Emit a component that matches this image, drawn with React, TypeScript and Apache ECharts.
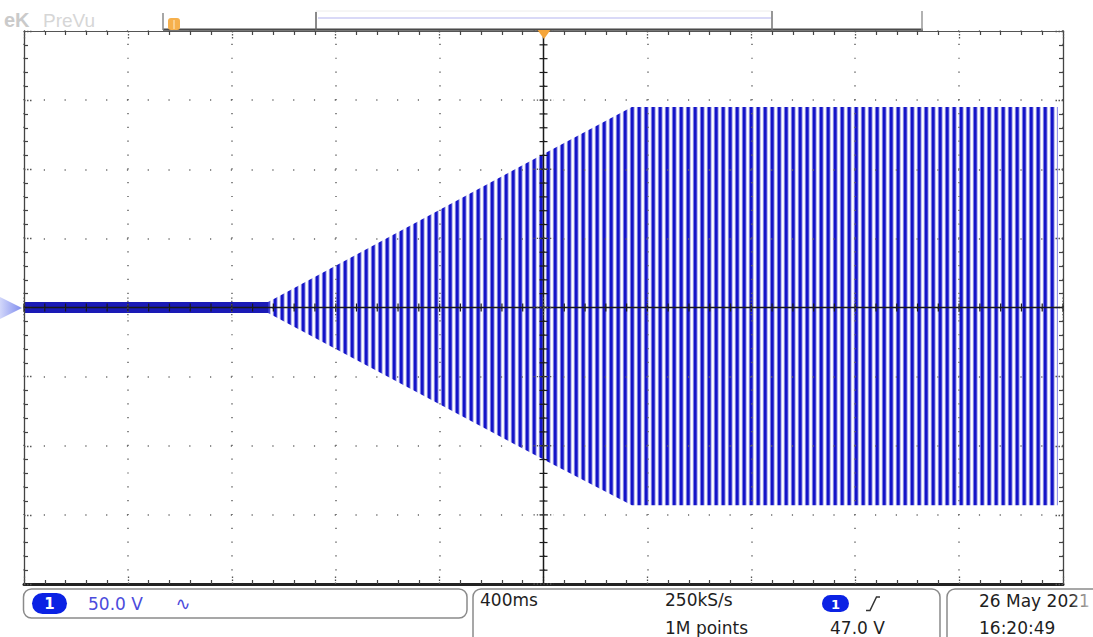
import React, { useEffect, useRef } from "react";
import * as echarts from "echarts";

// ---- axis scale (400 ms/div, 50 V/div) ----
const timeTicksMs = [-2000, -1600, -1200, -800, -400, 0, 400, 800, 1200, 1600, 2000];
const voltTicks = [-200, -150, -100, -50, 0, 50, 100, 150, 200];
const minorPerDiv = 5;

// ---- captured trace: envelope ----
// idle noise before the start-up
const noiseTime = [-2000, -1060];
const noiseMax = [4, 4];
const noiseMin = [-4, -4];
// ramping then steady oscillation
const traceTime = [-1060, 0, 340, 1980];
const traceMax = [4, 111, 145, 145];
const traceMin = [-4, -110, -143, -143];

// ---- status bar texts ----
const chScale = "50.0 V";
const timeBase = "400ms";
const sampleRate = "250kS/s";
const recordLen = "1M points";
const trigLevel = "47.0 V";
const dateText = "26 May 2021";
const timeText = "16:20:49";

function subdivide(ticks: number[], n: number): number[] {
  const out: number[] = [];
  for (let i = 0; i < ticks.length - 1; i++) {
    for (let k = 0; k < n; k++) out.push(ticks[i] + ((ticks[i + 1] - ticks[i]) * k) / n);
  }
  out.push(ticks[ticks.length - 1]);
  return out;
}

function makeStripePattern() {
  const cols = ["#7c7ce2", "#1414c8", "#1414c8", "#4646d2", "#c4c4f0", "#ffffff", "#eeeefa"];
  const c = document.createElement("canvas");
  c.width = cols.length;
  c.height = 4;
  const ctx = c.getContext("2d")!;
  cols.forEach((col, i) => {
    ctx.fillStyle = col;
    ctx.fillRect(i, 0, 1, 4);
  });
  return { image: c.toDataURL(), repeat: "repeat", imageWidth: cols.length, imageHeight: 4 };
}

const FONT = "DejaVu Sans";

export default function App() {
  const ref = useRef<HTMLDivElement>(null);

  useEffect(() => {
    if (!ref.current) return;
    const chart = echarts.init(ref.current, null, { renderer: "svg" });
    const pattern = makeStripePattern();
    const tMin = timeTicksMs[0];
    const tMax = timeTicksMs[timeTicksMs.length - 1];
    const vMin = voltTicks[0];
    const vMax = voltTicks[voltTicks.length - 1];
    const tInt = timeTicksMs[1] - timeTicksMs[0];
    const vInt = voltTicks[1] - voltTicks[0];
    const timeMinor = subdivide(timeTicksMs, minorPerDiv);
    const voltMinor = subdivide(voltTicks, minorPerDiv);

    const gridH = 553;
    const gridW = 1039;
    const vDotStep = gridH / ((voltTicks.length - 1) * minorPerDiv);
    const hDotStep = gridW / ((timeTicksMs.length - 1) * minorPerDiv);

    const tickCommon = {
      axisLabel: { show: false },
      axisTick: {
        show: true,
        inside: true,
        length: 8,
        lineStyle: { color: "#555", width: 1.3, type: [1.5, 1.5] },
      },
      minorTick: { show: true, splitNumber: minorPerDiv, length: 4, lineStyle: { color: "#444", width: 1.2 } },
      z: 4,
    };

    const xBase = { type: "value", min: tMin, max: tMax, interval: tInt, ...tickCommon };
    const yBase = { type: "value", min: vMin, max: vMax, interval: vInt, ...tickCommon };

    const areaSeries = (name: string, xs: number[], ys: number[], color: any) => ({
      type: "line",
      name,
      data: xs.map((t, i) => [t, ys[i]]),
      showSymbol: false,
      silent: true,
      lineStyle: { width: 0, opacity: 0 },
      areaStyle: { color, opacity: 1 },
      z: 2,
    });

    const option: any = {
      animation: false,
      backgroundColor: "#ffffff",
      grid: { left: 24, top: 31, width: gridW, height: gridH, containLabel: false },
      xAxis: [
        {
          ...xBase,
          position: "bottom",
          axisLine: { show: true, onZero: false, lineStyle: { color: "#222", width: 3 } },
          splitLine: {
            show: true,
            lineStyle: { color: "#666", width: 1.5, type: [1.2, vDotStep - 1.2], dashOffset: 0.6 },
          },
        },
        {
          ...xBase,
          position: "top",
          axisLine: { show: true, onZero: false, lineStyle: { color: "#555", width: 1.2 } },
          splitLine: { show: false },
        },
      ],
      yAxis: [
        {
          ...yBase,
          position: "left",
          axisLine: { show: true, onZero: false, lineStyle: { color: "#444", width: 1.3 } },
          splitLine: {
            show: true,
            lineStyle: { color: "#666", width: 1.5, type: [1.2, hDotStep - 1.2], dashOffset: 0.6 },
          },
        },
        {
          ...yBase,
          position: "right",
          axisLine: { show: true, onZero: false, lineStyle: { color: "#444", width: 1.3 } },
          splitLine: { show: false },
        },
      ],
      series: [
        areaSeries("noise+", noiseTime, noiseMax, "#1a1ab6"),
        areaSeries("noise-", noiseTime, noiseMin, "#1a1ab6"),
        areaSeries("trace+", traceTime, traceMax, pattern),
        areaSeries("trace-", traceTime, traceMin, pattern),
        {
          type: "custom",
          name: "crosshair",
          silent: true,
          z: 6,
          data: [[0, 0]],
          renderItem: (params: any, api: any) => {
            const top = api.coord([0, vMax]);
            const bottom = api.coord([0, vMin]);
            const left = api.coord([tMin, 0]);
            const right = api.coord([tMax, 0]);
            const stroke = "#1a1a1a";
            const children: any[] = [
              { type: "line", shape: { x1: top[0], y1: top[1], x2: bottom[0], y2: bottom[1] }, style: { stroke, lineWidth: 1.5 } },
              { type: "line", shape: { x1: left[0], y1: left[1], x2: right[0], y2: right[1] }, style: { stroke, lineWidth: 1.5 } },
            ];
            voltMinor.forEach((v) => {
              const p = api.coord([0, v]);
              children.push({ type: "line", shape: { x1: p[0] - 4, y1: p[1], x2: p[0] + 4, y2: p[1] }, style: { stroke, lineWidth: 1.2 } });
            });
            timeMinor.forEach((t) => {
              const p = api.coord([t, 0]);
              children.push({ type: "line", shape: { x1: p[0], y1: p[1] - 4, x2: p[0], y2: p[1] + 4 }, style: { stroke, lineWidth: 1.2 } });
            });
            voltTicks.forEach((v) => {
              const p = api.coord([0, v]);
              children.push({ type: "line", shape: { x1: p[0] - 10, y1: p[1], x2: p[0] + 10, y2: p[1] }, style: { stroke: "#555", lineWidth: 1.3, lineDash: [1.3, 2] } });
            });
            timeTicksMs.forEach((t) => {
              const p = api.coord([t, 0]);
              children.push({ type: "line", shape: { x1: p[0], y1: p[1] - 10, x2: p[0], y2: p[1] + 10 }, style: { stroke: "#555", lineWidth: 1.3, lineDash: [1.3, 2] } });
            });
            return { type: "group", children };
          },
        },
      ],
      graphic: [
        // Tek PreVu watermark
        { type: "text", x: 4, y: 20, style: { text: "eK", font: "bold 20px 'Liberation Sans'", fill: "#cacaca", verticalAlign: "middle" } },
        { type: "text", x: 43, y: 20, style: { text: "PreVu", font: "19px 'Liberation Sans'", fill: "#d6d6d6", verticalAlign: "middle" } },
        // record-view bar
        { type: "rect", shape: { x: 316, y: 11, width: 456, height: 18 }, style: { fill: "#ffffff", stroke: "#ececec", lineWidth: 1 } },
        { type: "line", shape: { x1: 318, y1: 18, x2: 771, y2: 18 }, style: { stroke: "#ccccf4", lineWidth: 1.5 } },
        { type: "rect", shape: { x: 163, y: 28.5, width: 760, height: 2.2 }, style: { fill: "#4a4a4a" } },
        { type: "line", shape: { x1: 163, y1: 13, x2: 163, y2: 30 }, style: { stroke: "#8a8a8a", lineWidth: 1.5 } },
        { type: "line", shape: { x1: 316, y1: 12, x2: 316, y2: 30 }, style: { stroke: "#666", lineWidth: 1.5 } },
        { type: "line", shape: { x1: 772, y1: 11, x2: 772, y2: 30 }, style: { stroke: "#777", lineWidth: 1.5 } },
        { type: "line", shape: { x1: 922, y1: 11, x2: 922, y2: 30 }, style: { stroke: "#999", lineWidth: 1.5 } },
        { type: "rect", shape: { x: 168, y: 18, width: 12, height: 12, r: 3 }, style: { fill: "#f6b04c" } },
        { type: "line", shape: { x1: 174, y1: 20, x2: 174, y2: 29 }, style: { stroke: "#fde3b8", lineWidth: 1.2 } },
        // trigger position marker
        { type: "polygon", z: 10, shape: { points: [[537.5, 30], [550.5, 30], [544, 39]] }, style: { fill: "#f5a53a" } },
        // channel ground marker
        {
          type: "polygon",
          shape: { points: [[0, 297], [0, 319], [22, 308]] },
          style: {
            fill: { type: "linear", x: 0, y: 0, x2: 1, y2: 0, colorStops: [{ offset: 0, color: "#d2d7fa" }, { offset: 1, color: "#7f8cee" }] },
          },
        },
        // status boxes
        { type: "rect", shape: { x: 23.5, y: 589, width: 443.5, height: 29, r: 8 }, style: { fill: "#fff", stroke: "#8a8a8a", lineWidth: 1.5 } },
        { type: "rect", shape: { x: 473, y: 589, width: 467, height: 64, r: 8 }, style: { fill: "#fff", stroke: "#8a8a8a", lineWidth: 1.5 } },
        { type: "rect", shape: { x: 947, y: 589, width: 180, height: 64, r: 8 }, style: { fill: "#fff", stroke: "#8a8a8a", lineWidth: 1.5 } },
        // box 1
        { type: "rect", shape: { x: 32, y: 593, width: 35, height: 21, r: 10.5 }, style: { fill: "#0b22e4" } },
        { type: "text", x: 49.5, y: 604, style: { text: "1", font: `bold 15px '${FONT}'`, fill: "#fff", align: "center", verticalAlign: "middle" } },
        { type: "text", x: 88, y: 603.5, style: { text: chScale, font: `17px '${FONT}'`, fill: "#4b4bdc", verticalAlign: "middle" } },
        { type: "text", x: 183, y: 603, style: { text: "∿", font: `18px '${FONT}'`, fill: "#4b4bdc", align: "center", verticalAlign: "middle" } },
        // box 2
        { type: "text", x: 480, y: 600, style: { text: timeBase, font: `17px '${FONT}'`, fill: "#1e1e1e", verticalAlign: "middle" } },
        { type: "text", x: 665, y: 600, style: { text: sampleRate, font: `17px '${FONT}'`, fill: "#1e1e1e", verticalAlign: "middle" } },
        { type: "text", x: 665, y: 627.5, style: { text: recordLen, font: `17px '${FONT}'`, fill: "#1e1e1e", verticalAlign: "middle" } },
        { type: "rect", shape: { x: 822, y: 595, width: 27, height: 17, r: 8.5 }, style: { fill: "#0b22e4" } },
        { type: "text", x: 835.5, y: 604, style: { text: "1", font: `bold 13px '${FONT}'`, fill: "#fff", align: "center", verticalAlign: "middle" } },
        { type: "polyline", shape: { points: [[866, 610.5], [870, 610.5], [876.5, 597], [880, 597]] }, style: { stroke: "#333", lineWidth: 1.5, fill: "none" } },
        { type: "text", x: 830, y: 627.5, style: { text: trigLevel, font: `17px '${FONT}'`, fill: "#1e1e1e", verticalAlign: "middle" } },
        // box 3
        { type: "text", x: 979, y: 601, style: { text: dateText, font: `17px '${FONT}'`, fill: "#1e1e1e", verticalAlign: "middle" } },
        { type: "text", x: 979, y: 627.5, style: { text: timeText, font: `17px '${FONT}'`, fill: "#1e1e1e", verticalAlign: "middle" } },
        {
          type: "rect",
          shape: { x: 1070, y: 590, width: 23, height: 47 },
          style: {
            fill: { type: "linear", x: 0, y: 0, x2: 1, y2: 0, colorStops: [{ offset: 0, color: "rgba(255,255,255,0)" }, { offset: 1, color: "rgba(255,255,255,0.85)" }] },
          },
        },
      ],
    };
    chart.setOption(option);
    return () => chart.dispose();
  }, []);

  return (
    <div
      ref={ref}
      style={{ position: "fixed", left: 0, top: 0, width: 1093, height: 637, background: "#fff" }}
    />
  );
}
